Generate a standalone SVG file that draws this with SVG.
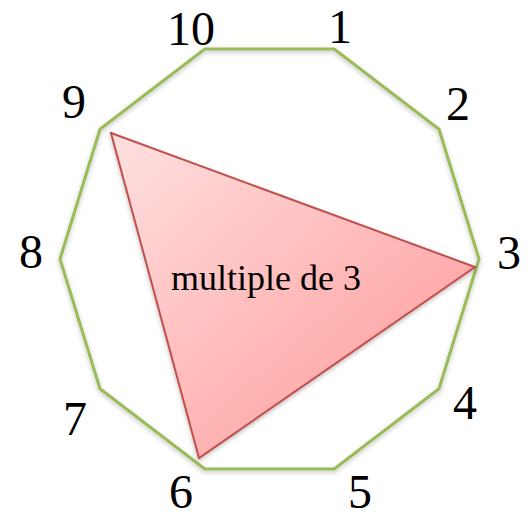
<svg xmlns="http://www.w3.org/2000/svg" width="530" height="514" viewBox="0 0 530 514">
<style>
.lbl{font-family:"Liberation Serif","Times New Roman",serif;font-size:48px;fill:#000;text-anchor:middle}
.inner{font-family:"Liberation Serif","Times New Roman",serif;font-size:36px;fill:#000;text-anchor:middle}
</style>
<defs>
<filter id="sh" x="-10%" y="-10%" width="120%" height="120%">
<feDropShadow dx="0" dy="2" stdDeviation="2" flood-color="#000" flood-opacity="0.25"/>
</filter>
<linearGradient id="tg" x1="0" y1="0" x2="1" y2="1">
<stop offset="0" stop-color="#ffe0e0"/>
<stop offset="1" stop-color="#ff9696"/>
</linearGradient>
</defs>
<rect width="530" height="514" fill="#fff"/>
<g id="decagon">
<polygon points="479,259 439,129.2 334.2,49 204.8,49 100,129.2 60,259 100,388.8 204.8,469 334.2,469 439,388.8" fill="none" stroke="#9bbb59" stroke-width="3" filter="url(#sh)"/>
</g>
<g id="triangle">
<polygon points="111,133 475,267 199,458" fill="url(#tg)" stroke="#c0504d" stroke-width="2" filter="url(#sh)"/>
<text class="inner" x="266" y="290">multiple de 3</text>
</g>
<g id="labels">
<text class="lbl" x="340" y="43">1</text>
<text class="lbl" x="458" y="120">2</text>
<text class="lbl" x="509" y="269">3</text>
<text class="lbl" x="465" y="419">4</text>
<text class="lbl" x="360" y="508">5</text>
<text class="lbl" x="181" y="508">6</text>
<text class="lbl" x="75" y="435">7</text>
<text class="lbl" x="31" y="268">8</text>
<text class="lbl" x="74" y="118">9</text>
<text class="lbl" x="191" y="45">10</text>
</g>
</svg>
